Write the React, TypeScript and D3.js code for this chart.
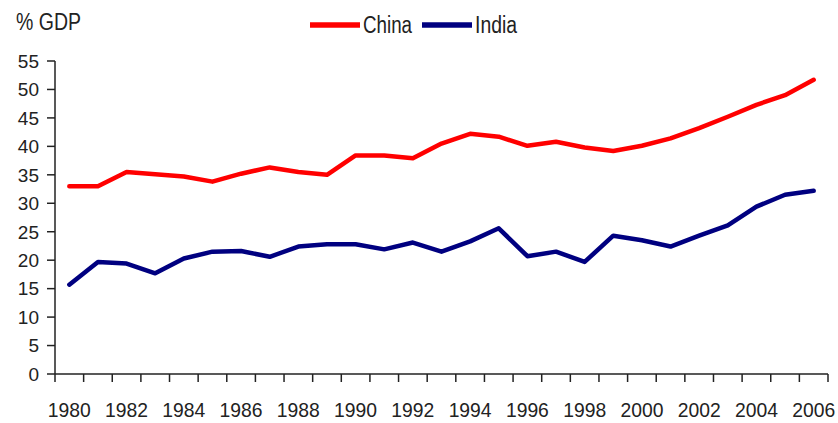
import React from "react";
import * as d3 from "d3";

const years: number[] = d3.range(1980, 2007);
const chinaValues: number[] = [
  33.0, 33.0, 35.5, 35.1, 34.7, 33.8, 35.2, 36.3, 35.5, 35.0, 38.4, 38.4, 37.9, 40.5,
  42.2, 41.7, 40.1, 40.8, 39.8, 39.2, 40.1, 41.4, 43.2, 45.2, 47.3, 49.0, 51.7,
];
const indiaValues: number[] = [
  15.7, 19.7, 19.4, 17.7, 20.3, 21.5, 21.6, 20.6, 22.4, 22.8, 22.8, 21.9, 23.1, 21.5,
  23.3, 25.6, 20.7, 21.5, 19.7, 24.3, 23.5, 22.4, 24.3, 26.1, 29.4, 31.5, 32.2,
];
const yTicks: number[] = [0, 5, 10, 15, 20, 25, 30, 35, 40, 45, 50, 55];
const xLabelYears: number[] = years.filter((y) => y % 2 === 0);
const seriesNames: string[] = ["China", "India"];
const seriesColors: string[] = ["#ff0000", "#000080"];
const yTitle = "% GDP";

const W = 838;
const H = 423;
const left = 55;
const right = 828;
const top = 61;
const bottom = 374;
const FONT = "'Liberation Sans', Arial, sans-serif";
const TEXT = "#222";

export default function App() {
  const x = d3.scaleBand<number>().domain(years).range([left, right]).padding(0);
  const y = d3.scaleLinear().domain([0, 55]).range([bottom, top]);
  const cx = (yr: number) => (x(yr) as number) + x.bandwidth() / 2;
  const line = d3
    .line<number>()
    .x((_, i) => cx(years[i]))
    .y((d) => y(d));
  const series = [chinaValues, indiaValues];
  const boundaries = years.map((yr) => x(yr) as number).concat([right]);

  return (
    <svg
      width={W}
      height={H}
      style={{ position: "absolute", left: 0, top: 0, background: "#fff" }}
      fontFamily={FONT}
    >
      <rect x={0} y={0} width={W} height={H} fill="#fff" />
      {/* y title */}
      <text x={16} y={30} fontSize={23} fill={TEXT} textLength={65} lengthAdjust="spacingAndGlyphs">
        {yTitle}
      </text>
      {/* legend */}
      {seriesNames.map((name, i) => {
        const lx = i === 0 ? 310 : 422;
        const tl = i === 0 ? 49 : 42;
        return (
          <g key={name}>
            <line x1={lx} x2={lx + 50} y1={25} y2={25} stroke={seriesColors[i]} strokeWidth={5.5} />
            <text x={lx + 53} y={33} fontSize={23} fill={TEXT} textLength={tl} lengthAdjust="spacingAndGlyphs">
              {name}
            </text>
          </g>
        );
      })}
      {/* y axis */}
      <line x1={left} x2={left} y1={top} y2={bottom} stroke="#222" strokeWidth={1.5} />
      {yTicks.map((t) => (
        <g key={t}>
          <line x1={left - 8} x2={left} y1={y(t)} y2={y(t)} stroke="#222" strokeWidth={1.5} />
          <text x={39} y={y(t)} dy="0.36em" textAnchor="end" fontSize={19} fill={TEXT}>
            {t}
          </text>
        </g>
      ))}
      {/* x axis */}
      <line x1={left} x2={right} y1={bottom} y2={bottom} stroke="#222" strokeWidth={1.5} />
      {boundaries.map((bx, i) => (
        <line key={i} x1={bx} x2={bx} y1={bottom} y2={bottom + 8} stroke="#222" strokeWidth={1.5} />
      ))}
      {xLabelYears.map((yr) => (
        <text
          key={yr}
          x={cx(yr) - 21.5}
          y={417}
          fontSize={21}
          fill={TEXT}
          textLength={43}
          lengthAdjust="spacingAndGlyphs"
        >
          {yr}
        </text>
      ))}
      {/* lines */}
      {series.map((vals, i) => (
        <path
          key={i}
          d={line(vals) || ""}
          fill="none"
          stroke={seriesColors[i]}
          strokeWidth={4.5}
          strokeLinejoin="round"
          strokeLinecap="round"
        />
      ))}
    </svg>
  );
}
